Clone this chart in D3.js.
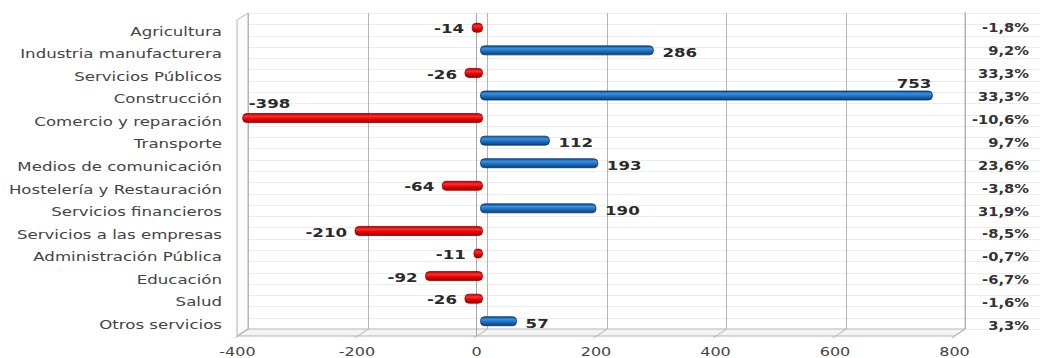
<!DOCTYPE html>
<html><head><meta charset="utf-8">
<script src="https://cdn.jsdelivr.net/npm/d3@7"></script>
<style>html,body{margin:0;padding:0;background:#fff}svg{display:block}</style>
</head><body>
<svg id="c" width="1040" height="358"></svg>
<script>
const categories = ["Agricultura","Industria manufacturera","Servicios Públicos","Construcción","Comercio y reparación","Transporte","Medios de comunicación","Hostelería y Restauración","Servicios financieros","Servicios a las empresas","Administración Pública","Educación","Salud","Otros servicios"];
const values = [-14, 286, -26, 753, -398, 112, 193, -64, 190, -210, -11, -92, -26, 57];
const percents = ["-1,8%","9,2%","33,3%","33,3%","-10,6%","9,7%","23,6%","-3,8%","31,9%","-8,5%","-0,7%","-6,7%","-1,6%","3,3%"];
const xTicks = [-400, -200, 0, 200, 400, 600, 800];

const svg = d3.select("#c");
const W = 1040, H = 358;
const SX = 1.28; // horizontal stretch of the text
const SXC = 1.33; // stretch of category labels
const DX = 11, DY = -7; // depth offset of back wall

const x = d3.scaleLinear().domain([-400, 800]).range([237, 954]);
const xb = d3.scaleLinear().domain(x.domain()).range(x.range().map(v => v + DX / 2));
const y = d3.scaleBand().domain(categories).range([20, 336]);
const yP = d3.scaleBand().domain(categories).range([16.5, 337.5]);

const defs = svg.append("defs");
function grad(id, stops) {
  const g = defs.append("linearGradient").attr("id", id).attr("x1", 0).attr("y1", 0).attr("x2", 0).attr("y2", 1);
  stops.forEach(([o, c]) => g.append("stop").attr("offset", o).attr("stop-color", c));
}
grad("gBlue", [[0, "#0d4f96"], [0.3, "#3a8fdc"], [0.6, "#1a6cc0"], [1, "#0b3f7a"]]);
grad("gRed", [[0, "#b00000"], [0.3, "#ff3030"], [0.6, "#e80000"], [1, "#a00000"]]);

const [x0, x1] = x.range();
const yTop = y.range()[0], yBot = y.range()[1];
const bx0 = x0 + DX, bx1 = x1 + DX, byTop = yTop + DY, byBot = yBot + DY;

// stripes on back wall (half rows), extended over the percent column
const g0 = svg.append("g");
const step = y.step() / 2;
for (let k = 0; k <= categories.length * 2; k++) {
  const yy = Math.round(byTop + k * step) + 0.5;
  g0.append("line").attr("x1", bx0).attr("x2", W).attr("y1", yy).attr("y2", yy)
    .attr("stroke", "#ececec").attr("stroke-width", 1);
}

const wallC = "#b4b4b4";
// left wall
g0.append("path").attr("d", `M${x0},${yBot} L${x0},${yTop} L${bx0},${byTop} L${bx0},${byBot} Z`)
  .attr("fill", "#fbfbfb").attr("stroke", wallC);
// floor
g0.append("path").attr("d", `M${x0},${yBot} L${bx0},${byBot} L${bx1},${byBot} L${x1},${yBot} Z`)
  .attr("fill", "#f4f4f4").attr("stroke", wallC);
// right wall edge
g0.append("line").attr("x1", bx1).attr("x2", bx1).attr("y1", byTop - 1).attr("y2", byBot).attr("stroke", wallC);

// vertical gridlines on back wall + floor diagonals
xTicks.forEach(t => {
  const bx = Math.round(x(t) + DX) + 0.5;
  g0.append("line").attr("x1", bx).attr("x2", bx).attr("y1", byTop).attr("y2", byBot).attr("stroke", wallC);
  g0.append("line").attr("x1", bx).attr("y1", byBot).attr("x2", x(t) - 2).attr("y2", yBot + 2).attr("stroke", wallC);
});
// category axis line at zero (front)
g0.append("line").attr("x1", Math.round(x(0)) + 0.5).attr("x2", Math.round(x(0)) + 0.5)
  .attr("y1", byTop).attr("y2", yBot).attr("stroke", "#a8a8a8");

// bars
const bh = 9;
const barY = c => y(c) + y.bandwidth() / 2 + DY / 2;
const data = categories.map((c, i) => ({ c, v: values[i], p: percents[i] }));
svg.append("g").selectAll("rect").data(data).join("rect")
  .attr("x", d => Math.min(xb(0), xb(d.v)) - 1)
  .attr("width", d => Math.abs(xb(d.v) - xb(0)) + 2)
  .attr("y", d => barY(d.c) - bh / 2)
  .attr("height", bh)
  .attr("rx", 4).attr("ry", 4)
  .attr("fill", d => d.v < 0 ? "url(#gRed)" : "url(#gBlue)")
  .attr("stroke", d => d.v < 0 ? "#8a0000" : "#0a3563")
  .attr("stroke-width", 0.8);

// value labels
const vmax = d3.max(values), vmin = d3.min(values);
const vl = svg.append("g").attr("font-family", "DejaVu Sans").attr("font-weight", "bold")
  .attr("font-size", 13).attr("fill", "#2a2a2a");
data.forEach(d => {
  let tx, ty, anchor;
  const cy = barY(d.c);
  if (d.v === vmax) { tx = xb(d.v); ty = cy - 12; anchor = "end"; }
  else if (d.v === vmin) { tx = xb(d.v) + 5; ty = cy - 15; anchor = "start"; }
  else if (d.v >= 0) { tx = xb(d.v) + 10; ty = cy + 2; anchor = "start"; }
  else { tx = xb(d.v) - 9; ty = cy + 1; anchor = "end"; }
  vl.append("text").attr("transform", `translate(${tx},${ty}) scale(${SX},1)`)
    .attr("dy", "0.36em").attr("text-anchor", anchor).text(d3.format("d")(d.v).replace("−", "-"));
});

// category axis (left)
const ya = svg.append("g").attr("transform", "translate(222,0)")
  .call(d3.axisLeft(y).tickSize(0).tickPadding(0));
ya.select(".domain").remove();
ya.selectAll("text").attr("font-family", "DejaVu Sans").attr("font-size", 12.5).attr("fill", "#444")
  .attr("transform", `scale(${SXC},1)`).attr("dy", "0.34em");

// x axis (bottom)
const xa = svg.append("g").attr("transform", `translate(0,${yBot})`)
  .call(d3.axisBottom(x).tickValues(xTicks).tickSize(0).tickPadding(0).tickFormat(d => String(d)));
xa.select(".domain").remove();
xa.selectAll("text").attr("font-family", "DejaVu Sans").attr("font-size", 12.5).attr("fill", "#444")
  .attr("y", 16).attr("dy", "0.35em").attr("transform", `scale(${SX},1)`);

// percent column
svg.append("g").attr("font-family", "DejaVu Sans").attr("font-weight", "bold").attr("font-size", 11.5)
  .attr("fill", "#333").selectAll("text").data(data).join("text")
  .attr("transform", d => `translate(1029,${yP(d.c) + yP.bandwidth() / 2}) scale(${SX},1)`)
  .attr("dy", "0.36em").attr("text-anchor", "end").text(d => d.p);
</script>
</body></html>
